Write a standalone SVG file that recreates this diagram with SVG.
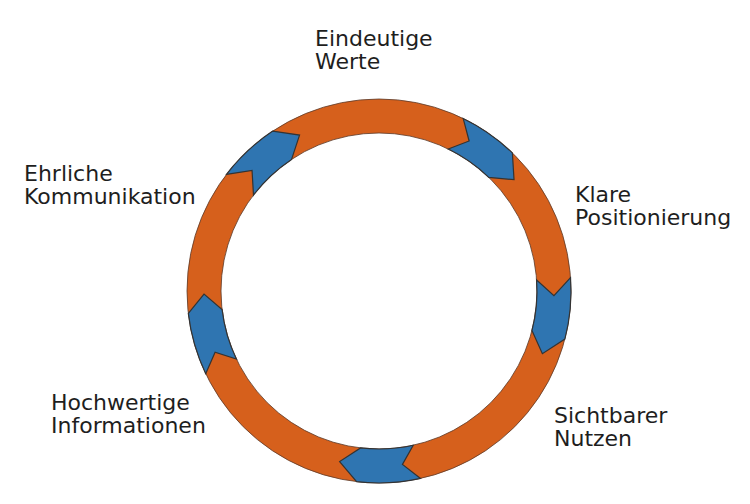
<svg xmlns="http://www.w3.org/2000/svg" width="750" height="504" viewBox="0 0 750 504">
  <style>
    .lbl { font-family: "DejaVu Sans", Verdana, sans-serif; font-size: 22px; fill: #1e1e1e; }
    .ring { fill: #D6601C; stroke: #5a3a2a; stroke-width: 0.8; fill-rule: evenodd; }
    .chev { fill: #2F75B1; stroke: #333333; stroke-width: 1.2; stroke-linejoin: miter; }
  </style>
  <rect width="750" height="504" fill="#ffffff"/>
  <g id="connectors">
    <path class="ring" d="M 379 99 A 192 192 0 1 1 379 483 A 192 192 0 1 1 379 99 Z M 379 133 A 158 158 0 1 0 379 449 A 158 158 0 1 0 379 133 Z"/>
    <path class="chev" d="M 463.17 118.43 L 469.13 140.99 L 448.27 148.99 A 158 158 0 0 1 488.76 177.35 L 514.03 179.68 L 512.38 152.89 A 192 192 0 0 0 463.17 118.43 Z"/>
    <path class="chev" d="M 570.53 277.60 L 553.94 295.58 L 536.62 279.97 A 158 158 0 0 1 531.96 330.56 L 542.38 353.72 L 564.88 339.08 A 192 192 0 0 0 570.53 277.60 Z"/>
    <path class="chev" d="M 420.55 478.45 L 402.45 464.43 L 413.19 445.26 A 158 158 0 0 1 360.56 447.93 L 339.62 461.52 L 356.59 481.69 A 192 192 0 0 0 420.55 478.45 Z"/>
    <path class="chev" d="M 205.70 373.66 L 215.08 352.29 L 236.39 359.02 A 158 158 0 0 1 222.07 309.44 L 204.03 294.05 L 188.31 313.41 A 192 192 0 0 0 205.70 373.66 Z"/>
    <path class="chev" d="M 226.48 174.38 L 252.05 170.53 L 253.48 195.03 A 158 158 0 0 1 291.56 159.40 L 299.55 135.07 L 272.75 131.08 A 192 192 0 0 0 226.48 174.38 Z"/>
  </g>
  <g id="node-eindeutige-werte">
    <text class="lbl" x="315" y="46">Eindeutige</text>
    <text class="lbl" x="315" y="69">Werte</text>
  </g>
  <g id="node-klare-positionierung">
    <text class="lbl" x="575" y="202">Klare</text>
    <text class="lbl" x="575" y="225">Positionierung</text>
  </g>
  <g id="node-sichtbarer-nutzen">
    <text class="lbl" x="554" y="423">Sichtbarer</text>
    <text class="lbl" x="554" y="446">Nutzen</text>
  </g>
  <g id="node-hochwertige-informationen">
    <text class="lbl" x="51" y="410">Hochwertige</text>
    <text class="lbl" x="51" y="433">Informationen</text>
  </g>
  <g id="node-ehrliche-kommunikation">
    <text class="lbl" x="24" y="181">Ehrliche</text>
    <text class="lbl" x="24" y="204">Kommunikation</text>
  </g>
</svg>
